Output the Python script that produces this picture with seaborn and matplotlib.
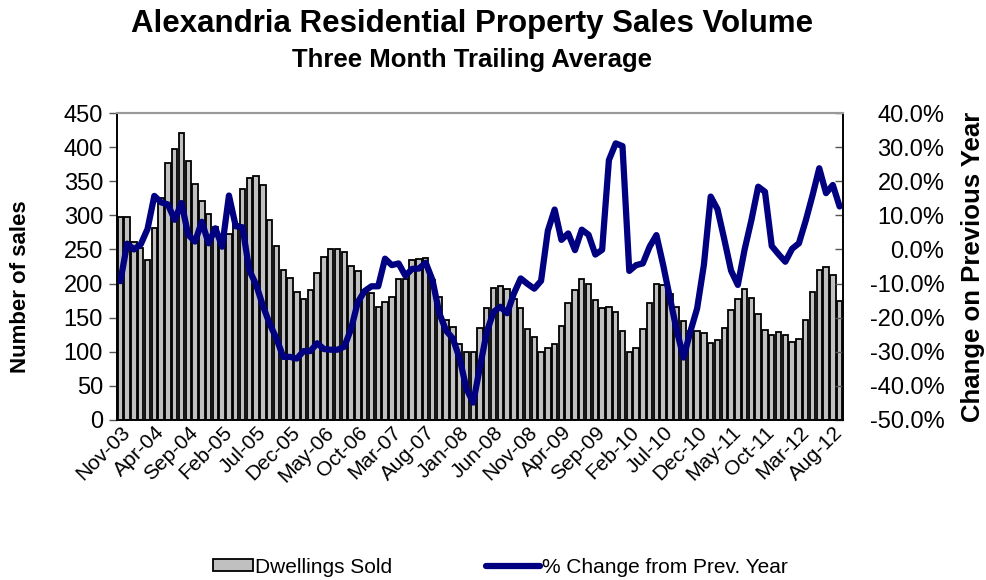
import numpy as np
import pandas as pd
import seaborn as sns
import matplotlib.pyplot as plt
from matplotlib.patches import Patch, Rectangle
from matplotlib.lines import Line2D
from matplotlib.legend_handler import HandlerPatch
from matplotlib.ticker import FuncFormatter

# monthly three-month trailing averages, Nov-03 .. Sep-12
months = pd.date_range("2003-11-01", periods=107, freq="MS").strftime("%b-%y").tolist()

sales = [298, 297, 261, 252, 235, 282, 325, 377, 397, 420,
         379, 346, 321, 302, 283, 262, 272, 287, 338, 354,
         357, 344, 293, 255, 220, 208, 188, 178, 190, 216,
         239, 250, 251, 246, 226, 219, 190, 186, 166, 173,
         180, 206, 207, 235, 236, 238, 205, 180, 147, 137,
         111, 100, 100, 135, 164, 193, 196, 192, 178, 164,
         133, 121, 99, 105, 111, 138, 172, 191, 207, 200,
         176, 164, 166, 159, 131, 99, 105, 133, 172, 200,
         198, 185, 165, 145, 131, 131, 128, 113, 117, 135,
         161, 178, 192, 179, 155, 132, 124, 129, 124, 114,
         119, 147, 187, 220, 225, 213, 174]

pct_change = [-9.3, 1.7, 0.0, 1.5, 6.0, 15.7, 13.8, 13.2, 8.7, 13.6,
              4.3, 2.3, 8.1, 1.8, 6.2, 0.8, 15.8, 6.8, 6.5, -6.1,
              -10.3, -16.5, -21.8, -26.1, -31.5, -31.5, -32.0, -29.8, -29.8, -27.5,
              -29.2, -29.4, -29.4, -28.5, -23.3, -15.4, -12.2, -10.8, -10.8, -2.7,
              -4.6, -4.1, -7.7, -5.7, -5.6, -3.9, -9.0, -18.7, -23.8, -26.1,
              -32.0, -40.8, -44.9, -34.4, -24.2, -18.3, -16.8, -18.7, -12.9, -8.5,
              -10.1, -11.5, -9.2, 5.5, 11.7, 2.8, 4.7, -0.2, 5.8, 4.3,
              -1.5, -0.1, 26.2, 31.1, 30.3, -6.3, -4.6, -4.1, 0.8, 4.2,
              -4.6, -14.3, -23.8, -31.7, -24.1, -17.3, -4.5, 15.5, 11.8, 3.0,
              -6.2, -10.4, 0.0, 8.6, 18.4, 16.9, 1.0, -1.4, -3.6, 0.2,
              1.8, 8.4, 15.8, 23.8, 16.5, 18.9, 12.6]

df = pd.DataFrame({"Month": months, "Dwellings Sold": sales,
                   "idx": np.arange(len(months)), "Change": pct_change})

sns.set_theme(style="white")
plt.rcParams["font.family"] = ["Liberation Sans", "DejaVu Sans"]
plt.rcParams["text.color"] = "black"
plt.rcParams["axes.labelcolor"] = "black"
plt.rcParams["xtick.color"] = "black"
plt.rcParams["ytick.color"] = "black"

fig = plt.figure(figsize=(9.87, 5.8), dpi=100)
ax = fig.add_axes([117 / 987, 1 - 420 / 580, (843 - 117) / 987, (420 - 113) / 580])

sns.barplot(data=df, x="Month", y="Dwellings Sold", color="#C0C0C0", saturation=1,
            edgecolor="black", linewidth=1.3, width=0.8, ax=ax)

ax2 = ax.twinx()
sns.lineplot(data=df, x="idx", y="Change", color="#000080", linewidth=4.5, ax=ax2)

ax.set_xlim(-0.5, len(months) - 0.5)
ax.set_ylim(0, 450)
ax.set_yticks(np.arange(0, 451, 50))
ax2.set_ylim(-50, 40)
ax2.set_yticks(np.arange(-50, 41, 10))
ax2.yaxis.set_major_formatter(FuncFormatter(lambda v, p: f"{v:.1f}%"))

# labels every 5 months, tick marks on category boundaries
lab_pos = np.arange(0, len(months), 5)
ax.set_xticks(lab_pos)
ax.set_xticklabels([months[i] for i in lab_pos], rotation=45, ha="right", va="top",
                   rotation_mode="anchor", fontsize=15)
ax.set_xticks(lab_pos - 0.5, minor=True)
ax.tick_params(axis="x", which="major", length=0, pad=2)
ax.tick_params(axis="x", which="minor", length=6, width=1, color="#555555", direction="out")
ax.tick_params(axis="y", length=6, width=1, color="#555555", direction="out", labelsize=17, pad=4)
ax2.tick_params(axis="y", length=6, width=1, color="#555555", direction="in", labelsize=17, pad=73)
for t in ax2.get_yticklabels():
    t.set_horizontalalignment("right")
ax.set_xlabel("")
ax.set_ylabel("Number of sales", fontsize=16, fontweight="bold")
ax.yaxis.set_label_coords(-0.118, 0.433)
ax2.set_ylabel("Change on Previous Year", fontsize=18.5, fontweight="bold", labelpad=12)
ax2.set_xlim(-0.5, len(months) - 0.5)
ax2.set_xlabel("")

for a in (ax, ax2):
    for s in ("left", "right", "bottom"):
        a.spines[s].set_color("black")
        a.spines[s].set_linewidth(1.2)
    a.spines["top"].set_color("#999999")
    a.spines["top"].set_linewidth(1.5)

fig.text(0.478, 0.958, "Alexandria Residential Property Sales Volume",
         ha="center", va="center", fontsize=22.5, fontweight="bold")
fig.text(0.478, 0.897, "Three Month Trailing Average",
         ha="center", va="center", fontsize=18.5, fontweight="bold")


def small_box(legend, orig_handle, xdescent, ydescent, width, height, fontsize):
    w = 29
    return Rectangle((width - xdescent - w, -ydescent), w, height)


handles = [Patch(facecolor="#C0C0C0", edgecolor="black", linewidth=1.3),
           Line2D([0], [0], color="#000080", linewidth=4.5)]
fig.legend(handles, ["Dwellings Sold", "% Change from Prev. Year"],
           loc="center", bbox_to_anchor=(0.5, 0.022), ncol=2, frameon=False,
           fontsize=15, handlelength=2.6, handleheight=0.5, handletextpad=0.1,
           columnspacing=4.5, handler_map={Patch: HandlerPatch(patch_func=small_box)})

fig.savefig("out.png", dpi=100)
